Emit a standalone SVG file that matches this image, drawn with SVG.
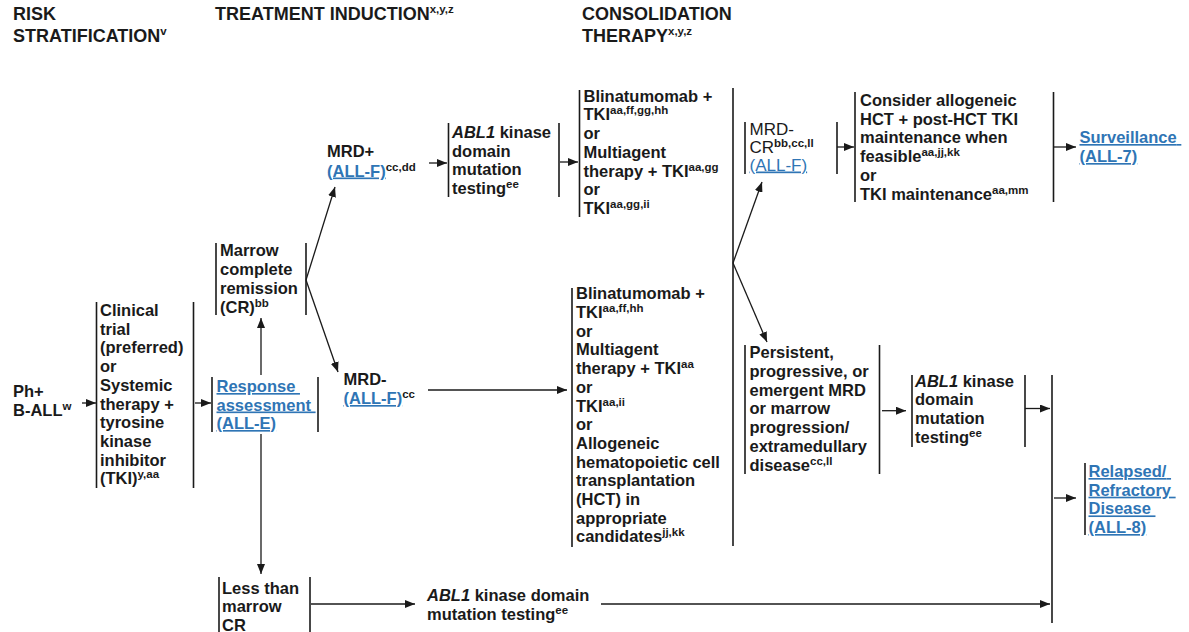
<svg xmlns="http://www.w3.org/2000/svg" width="1189" height="632" viewBox="0 0 1189 632">
<style>
.t{font-family:"Liberation Sans",Arial,sans-serif;font-size:16.5px;font-weight:bold;fill:#1a1a1a}
.h{font-size:18px}
.n{font-weight:normal;font-size:17px}
.s{font-size:11.5px}
.sb{font-weight:bold}
.lk{fill:#2f75b5;text-decoration:underline}
.i{font-style:italic}
.bar{stroke:#1a1a1a;stroke-width:1.6;fill:none}
.c{stroke:#1a1a1a;stroke-width:1.3;fill:none;marker-end:url(#ah)}
</style>
<defs>
<marker id="ah" markerUnits="userSpaceOnUse" markerWidth="10" markerHeight="8" refX="10" refY="4" orient="auto">
<path d="M0,0 L10,4 L0,8 z" fill="#1a1a1a"/>
</marker>
</defs>
<rect width="1189" height="632" fill="#ffffff"/>

<g id="headers">
<text class="t h" x="13" y="20">RISK</text>
<text class="t h" x="13" y="42">STRATIFICATION<tspan class="s" dy="-7">v</tspan></text>
<text class="t h" x="215" y="20">TREATMENT INDUCTION<tspan class="s" dy="-7">x,y,z</tspan></text>
<text class="t h" x="582" y="20">CONSOLIDATION</text>
<text class="t h" x="582" y="42">THERAPY<tspan class="s" dy="-7">x,y,z</tspan></text>
</g>

<g id="ph-ball">
<text class="t" x="13" y="397">Ph+</text>
<text class="t" x="13" y="416">B-ALL<tspan class="s" dy="-6">w</tspan></text>
</g>

<g id="induction">
<line class="bar" x1="96.5" y1="302" x2="96.5" y2="488"/>
<line class="bar" x1="193.5" y1="302" x2="193.5" y2="488"/>
<text class="t">
<tspan x="100" y="316">Clinical</tspan>
<tspan x="100" y="334.7">trial</tspan>
<tspan x="100" y="353.4">(preferred)</tspan>
<tspan x="100" y="372.1">or</tspan>
<tspan x="100" y="390.8">Systemic</tspan>
<tspan x="100" y="409.5">therapy +</tspan>
<tspan x="100" y="428.2">tyrosine</tspan>
<tspan x="100" y="446.9">kinase</tspan>
<tspan x="100" y="465.6">inhibitor</tspan>
<tspan x="100" y="484.3">(TKI)<tspan class="s" dy="-6">y,aa</tspan></tspan>
</text>
</g>

<g id="response">
<line class="bar" x1="212" y1="377" x2="212" y2="432"/>
<line class="bar" x1="318" y1="377" x2="318" y2="432"/>
<text class="t lk">
<tspan x="216.5" y="392">Response </tspan>
<tspan x="216.5" y="410.5">assessment</tspan>
<tspan x="216.5" y="429">(ALL-E)</tspan>
</text>
</g>

<g id="marrow-cr">
<line class="bar" x1="216" y1="243" x2="216" y2="315"/>
<line class="bar" x1="306" y1="243" x2="306" y2="315"/>
<text class="t">
<tspan x="220" y="256">Marrow</tspan>
<tspan x="220" y="275">complete</tspan>
<tspan x="220" y="294">remission</tspan>
<tspan x="220" y="312.5">(CR)<tspan class="s" dy="-6">bb</tspan></tspan>
</text>
</g>

<g id="mrd-pos">
<text class="t" x="327" y="157">MRD+</text>
<text class="t" x="327" y="176.5"><tspan class="lk">(ALL-F)</tspan><tspan class="s" dy="-6">cc,dd</tspan></text>
</g>

<g id="abl1-top">
<line class="bar" x1="448.5" y1="123" x2="448.5" y2="197"/>
<line class="bar" x1="559" y1="123" x2="559" y2="197"/>
<text class="t">
<tspan x="452" y="138"><tspan class="i">ABL1</tspan> kinase</tspan>
<tspan x="452" y="156.7">domain</tspan>
<tspan x="452" y="175.4">mutation</tspan>
<tspan x="452" y="194">testing<tspan class="s" dy="-6">ee</tspan></tspan>
</text>
</g>

<g id="consolidation-top">
<line class="bar" x1="579.5" y1="90" x2="579.5" y2="217"/>
<text class="t">
<tspan x="583.5" y="101.7">Blinatumomab +</tspan>
<tspan x="583.5" y="120.4">TKI<tspan class="s" dy="-6">aa,ff,gg,hh</tspan></tspan>
<tspan x="583.5" y="139.1">or</tspan>
<tspan x="583.5" y="157.8">Multiagent</tspan>
<tspan x="583.5" y="176.5">therapy + TKI<tspan class="s" dy="-6">aa,gg</tspan></tspan>
<tspan x="583.5" y="195.2">or</tspan>
<tspan x="583.5" y="213.9">TKI<tspan class="s" dy="-6">aa,gg,ii</tspan></tspan>
</text>
</g>

<g id="mrd-neg">
<text class="t" x="343.5" y="385">MRD-</text>
<text class="t" x="343.5" y="404"><tspan class="lk">(ALL-F)</tspan><tspan class="s" dy="-6">cc</tspan></text>
</g>

<g id="consolidation-bottom">
<line class="bar" x1="572" y1="288" x2="572" y2="547"/>
<text class="t">
<tspan x="576" y="299.3">Blinatumomab +</tspan>
<tspan x="576" y="318">TKI<tspan class="s" dy="-6">aa,ff,hh</tspan></tspan>
<tspan x="576" y="336.7">or</tspan>
<tspan x="576" y="355.4">Multiagent</tspan>
<tspan x="576" y="374.1">therapy + TKI<tspan class="s" dy="-6">aa</tspan></tspan>
<tspan x="576" y="392.8">or</tspan>
<tspan x="576" y="411.5">TKI<tspan class="s" dy="-6">aa,ii</tspan></tspan>
<tspan x="576" y="430.2">or</tspan>
<tspan x="576" y="448.9">Allogeneic</tspan>
<tspan x="576" y="467.6">hematopoietic cell</tspan>
<tspan x="576" y="486.3">transplantation</tspan>
<tspan x="576" y="505">(HCT) in</tspan>
<tspan x="576" y="523.7">appropriate</tspan>
<tspan x="576" y="542.4">candidates<tspan class="s" dy="-6">jj,kk</tspan></tspan>
</text>
</g>

<g id="consolidation-bar">
<line class="bar" x1="733" y1="88" x2="733" y2="546"/>
</g>

<g id="mrd-cr">
<line class="bar" x1="745" y1="122" x2="745" y2="174"/>
<line class="bar" x1="837" y1="122" x2="837" y2="174"/>
<text class="t n">
<tspan x="749.5" y="135">MRD-</tspan>
<tspan x="749.5" y="153">CR<tspan class="s sb" dy="-6">bb,cc,ll</tspan></tspan>
<tspan x="749.5" y="170.5" class="lk">(ALL-F)</tspan>
</text>
</g>

<g id="consider-hct">
<line class="bar" x1="855" y1="92" x2="855" y2="202"/>
<line class="bar" x1="1053.5" y1="92" x2="1053.5" y2="202"/>
<text class="t">
<tspan x="860" y="106">Consider allogeneic</tspan>
<tspan x="860" y="124.7">HCT + post-HCT TKI</tspan>
<tspan x="860" y="143.4">maintenance when</tspan>
<tspan x="860" y="162.1">feasible<tspan class="s" dy="-6">aa,jj,kk</tspan></tspan>
<tspan x="860" y="180.8">or</tspan>
<tspan x="860" y="199.5">TKI maintenance<tspan class="s" dy="-6">aa,mm</tspan></tspan>
</text>
</g>

<g id="surveillance">
<text class="t lk">
<tspan x="1079.5" y="143">Surveillance</tspan>
<tspan x="1079.5" y="162">(ALL-7)</tspan>
</text>
</g>

<g id="persistent">
<line class="bar" x1="745" y1="345" x2="745" y2="474"/>
<line class="bar" x1="879.5" y1="345" x2="879.5" y2="474"/>
<text class="t">
<tspan x="749.5" y="358.3">Persistent,</tspan>
<tspan x="749.5" y="377">progressive, or</tspan>
<tspan x="749.5" y="395.7">emergent MRD</tspan>
<tspan x="749.5" y="414.4">or marrow</tspan>
<tspan x="749.5" y="433.1">progression/</tspan>
<tspan x="749.5" y="451.8">extramedullary</tspan>
<tspan x="749.5" y="470.5">disease<tspan class="s" dy="-6">cc,ll</tspan></tspan>
</text>
</g>

<g id="abl1-relapse">
<line class="bar" x1="912" y1="375" x2="912" y2="447"/>
<line class="bar" x1="1025" y1="375" x2="1025" y2="447"/>
<text class="t">
<tspan x="915" y="386.7"><tspan class="i">ABL1</tspan> kinase</tspan>
<tspan x="915" y="405.4">domain</tspan>
<tspan x="915" y="424.1">mutation</tspan>
<tspan x="915" y="442.8">testing<tspan class="s" dy="-6">ee</tspan></tspan>
</text>
</g>

<g id="relapse-bar">
<line class="bar" x1="1052" y1="375" x2="1052" y2="623"/>
</g>

<g id="relapsed">
<line class="bar" x1="1085" y1="463" x2="1085" y2="535"/>
<text class="t lk">
<tspan x="1088.5" y="477">Relapsed/</tspan>
<tspan x="1088.5" y="495.7">Refractory </tspan>
<tspan x="1088.5" y="514.4">Disease </tspan>
<tspan x="1088.5" y="533">(ALL-8)</tspan>
</text>
</g>

<g id="less-than-cr">
<line class="bar" x1="219" y1="577" x2="219" y2="640"/>
<line class="bar" x1="310" y1="577" x2="310" y2="640"/>
<text class="t">
<tspan x="222" y="593.5">Less than</tspan>
<tspan x="222" y="612.2">marrow</tspan>
<tspan x="222" y="630.9">CR</tspan>
</text>
</g>

<g id="abl1-bottom">
<text class="t">
<tspan x="427" y="601"><tspan class="i">ABL1</tspan> kinase domain</tspan>
<tspan x="427" y="620">mutation testing<tspan class="s" dy="-6">ee</tspan></tspan>
</text>
</g>

<g id="connectors">
<line class="c" x1="82" y1="403" x2="96" y2="403"/>
<line class="c" x1="195" y1="403" x2="211" y2="403"/>
<line class="c" x1="261" y1="375" x2="261" y2="318"/>
<line class="c" x1="261" y1="434" x2="261" y2="574"/>
<line class="c" x1="306" y1="280" x2="335" y2="187"/>
<line class="c" x1="306" y1="280" x2="338" y2="372"/>
<line class="c" x1="429" y1="163" x2="447" y2="163"/>
<line class="c" x1="560" y1="162" x2="578" y2="162"/>
<line class="c" x1="428" y1="390" x2="567" y2="390"/>
<line class="c" x1="733" y1="263" x2="762" y2="182"/>
<line class="c" x1="733" y1="263" x2="767" y2="342"/>
<line class="c" x1="837" y1="147" x2="854" y2="147"/>
<line class="c" x1="1054" y1="147" x2="1076" y2="147"/>
<line class="c" x1="882" y1="410.7" x2="906" y2="410.7"/>
<line class="c" x1="1025" y1="408.5" x2="1050" y2="408.5"/>
<line class="c" x1="1054" y1="498" x2="1076" y2="498"/>
<line class="c" x1="311" y1="604" x2="415" y2="604"/>
<line class="c" x1="601" y1="604" x2="1050" y2="604"/>
</g>
</svg>
